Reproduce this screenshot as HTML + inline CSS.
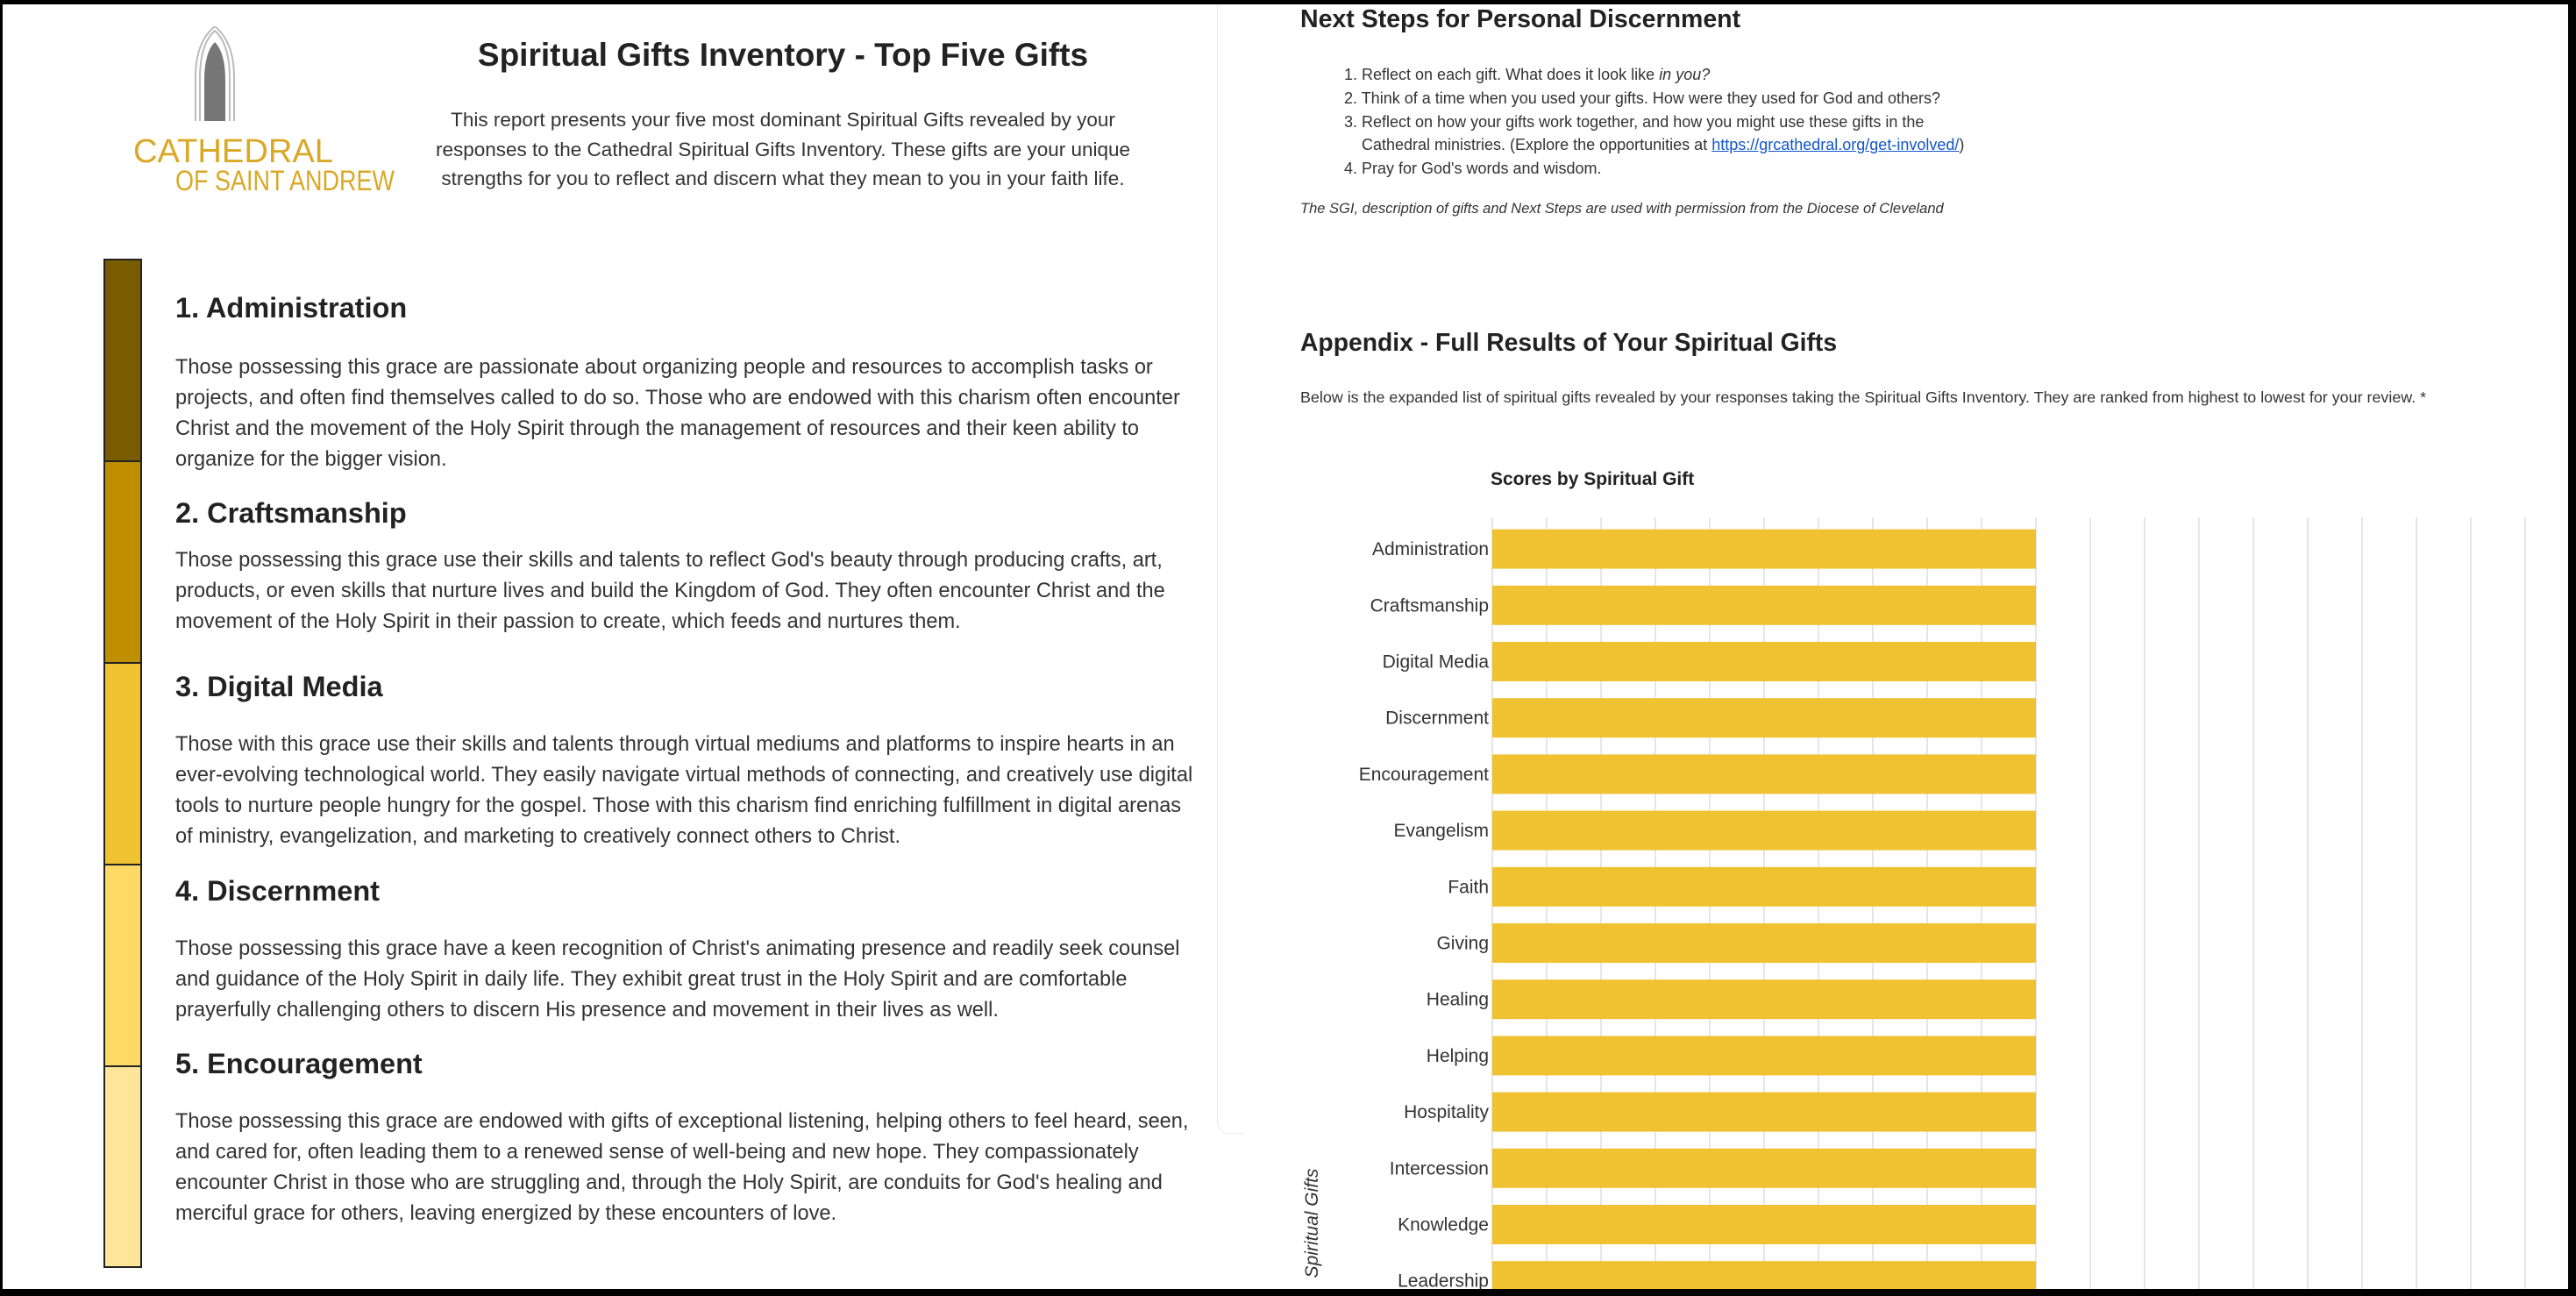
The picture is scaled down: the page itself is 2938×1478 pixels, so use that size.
<!DOCTYPE html>
<html><head><meta charset="utf-8"><style>
body{margin:0;width:2938px;height:1478px;overflow:hidden;background:#000;font-family:"Liberation Sans",Arial,sans-serif;color:#333;}
#page{position:absolute;left:3px;top:5px;width:2926px;height:1465px;background:#fff;overflow:hidden}
.abs{position:absolute;white-space:nowrap}
.para{position:absolute;left:197px;font-size:23.6px;line-height:35px;color:#333;white-space:nowrap}
.head{position:absolute;left:197px;font-size:32.5px;font-weight:bold;color:#222}
.seg{position:absolute;left:115px;width:44px;border:2px solid #222;box-sizing:border-box}
</style></head><body>
<div id="page">
 <div class="abs" style="left:147px;top:25px;width:310px;height:195px">
  <svg width="310" height="200">
   <g fill="none" stroke="#bbb" stroke-width="2">
    <path d="M78 108 L78 60 Q78 20 95 5 Q112 20 112 60 L112 108"/>
    <path d="M73 108 L73 58 Q73 18 95 0 Q117 18 117 58 L117 108"/>
   </g>
   <path d="M83 108 L83 62 Q83 30 95 18 Q107 30 107 62 L107 108 Z" fill="#777"/>
   <text x="2" y="155" font-family="Liberation Sans,sans-serif" font-size="38" fill="#d9a826" textLength="228" lengthAdjust="spacingAndGlyphs">CATHEDRAL</text>
   <text x="50" y="187" font-family="Liberation Sans,sans-serif" font-size="32" fill="#d9a826" textLength="250" lengthAdjust="spacingAndGlyphs">OF SAINT ANDREW</text>
  </svg>
 </div>
 <div class="abs" style="left:540px;top:37px;width:700px;text-align:center;font-size:37px;font-weight:bold;color:#222">Spiritual Gifts Inventory - Top Five Gifts</div>
 <div class="abs" style="left:440px;top:115px;width:900px;text-align:center;font-size:22.5px;line-height:33.5px;color:#333">This report presents your five most dominant Spiritual Gifts revealed by your<br>responses to the Cathedral Spiritual Gifts Inventory. These gifts are your unique<br>strengths for you to reflect and discern what they mean to you in your faith life.</div>

 <div class="seg" style="top:290px;height:232px;background:#7a5c00"></div>
 <div class="seg" style="top:520px;height:232px;background:#bf8f00"></div>
 <div class="seg" style="top:750px;height:232px;background:#f1c232"></div>
 <div class="seg" style="top:980px;height:232px;background:#ffd966"></div>
 <div class="seg" style="top:1210px;height:231px;background:#ffe599"></div>

 <div class="head" style="top:328px">1. Administration</div>
 <div class="para" style="top:397px">Those possessing this grace are passionate about organizing people and resources to accomplish tasks or<br>projects, and often find themselves called to do so. Those who are endowed with this charism often encounter<br>Christ and the movement of the Holy Spirit through the management of resources and their keen ability to<br>organize for the bigger vision.</div>
 <div class="head" style="top:562px">2. Craftsmanship</div>
 <div class="para" style="top:617px">Those possessing this grace use their skills and talents to reflect God's beauty through producing crafts, art,<br>products, or even skills that nurture lives and build the Kingdom of God. They often encounter Christ and the<br>movement of the Holy Spirit in their passion to create, which feeds and nurtures them.</div>
 <div class="head" style="top:760px">3. Digital Media</div>
 <div class="para" style="top:827px">Those with this grace use their skills and talents through virtual mediums and platforms to inspire hearts in an<br>ever-evolving technological world. They easily navigate virtual methods of connecting, and creatively use digital<br>tools to nurture people hungry for the gospel. Those with this charism find enriching fulfillment in digital arenas<br>of ministry, evangelization, and marketing to creatively connect others to Christ.</div>
 <div class="head" style="top:993px">4. Discernment</div>
 <div class="para" style="top:1060px">Those possessing this grace have a keen recognition of Christ's animating presence and readily seek counsel<br>and guidance of the Holy Spirit in daily life. They exhibit great trust in the Holy Spirit and are comfortable<br>prayerfully challenging others to discern His presence and movement in their lives as well.</div>
 <div class="head" style="top:1190px">5. Encouragement</div>
 <div class="para" style="top:1257px">Those possessing this grace are endowed with gifts of exceptional listening, helping others to feel heard, seen,<br>and cared for, often leading them to a renewed sense of well-being and new hope. They compassionately<br>encounter Christ in those who are struggling and, through the Holy Spirit, are conduits for God's healing and<br>merciful grace for others, leaving energized by these encounters of love.</div>

 <div class="abs" style="left:1385px;top:-5px;width:30px;height:1292px;border-left:1px solid #e8e8e8;border-bottom:1px solid #eee;border-bottom-left-radius:14px"></div>

 <div class="abs" style="left:1480px;top:1px;font-size:28.5px;font-weight:bold;color:#222">Next Steps for Personal Discernment</div>
 <div class="abs" style="left:1530px;top:67px;font-size:18px;line-height:26.8px;color:#333">1. Reflect on each gift. What does it look like <i>in you?</i><br>2. Think of a time when you used your gifts. How were they used for God and others?<br>3. Reflect on how your gifts work together, and how you might use these gifts in the<br>&nbsp;&nbsp;&nbsp;&nbsp;Cathedral ministries. (Explore the opportunities at <a style="color:#1155cc;text-decoration:underline">https://grcathedral.org/get-involved/</a>)<br>4. Pray for God's words and wisdom.</div>
 <div class="abs" style="left:1480px;top:224px;font-size:16.5px;font-style:italic;color:#333">The SGI, description of gifts and Next Steps are used with permission from the Diocese of Cleveland</div>
 <div class="abs" style="left:1480px;top:369px;font-size:28.3px;font-weight:bold;color:#222">Appendix - Full Results of Your Spiritual Gifts</div>
 <div class="abs" style="left:1480px;top:438px;font-size:17.9px;color:#333">Below is the expanded list of spiritual gifts revealed by your responses taking the Spiritual Gifts Inventory. They are ranked from highest to lowest for your review. *</div>

 <svg id="chart" class="abs" style="left:0;top:0" width="2926" height="1465"></svg>
</div>
<script>
const categories=["Administration","Craftsmanship","Digital Media","Discernment","Encouragement","Evangelism","Faith","Giving","Healing","Helping","Hospitality","Intercession","Knowledge","Leadership"];
const scores=[10,10,10,10,10,10,10,10,10,10,10,10,10,10];
const xTicks=[0,1,2,3,4,5,6,7,8,9,10,11,12,13,14,15,16,17,18,19,20];
const NS="http://www.w3.org/2000/svg";
const svg=document.getElementById('chart');
const ox=-3, oy=-5;
const x0=1702+ox, x1=2942+ox, xMax=20;
const top0=590+oy, band=64.2, barH=45;
const xs=v=>x0+(v/xMax)*(x1-x0);
const yc=i=>top0+band/2+4+i*band;
function mk(t,a){const e=document.createElementNS(NS,t);for(const k in a)e.setAttribute(k,a[k]);svg.appendChild(e);return e;}
xTicks.forEach(t=>{
 const l=mk('line',{x1:xs(t),x2:xs(t),y1:top0,y2:1470,stroke:'#dedede','stroke-width':1.5});
 
 
});
categories.forEach((c,i)=>{
 const r=mk('rect',{x:xs(0),y:yc(i)-barH/2,width:xs(scores[i])-xs(0),height:barH,fill:'#f0c232'});
 
 
 const t=mk('text',{x:x0-4,y:yc(i)+7,'text-anchor':'end','font-size':21,fill:'#333','font-family':'Liberation Sans, sans-serif'});
 t.textContent=c;
 
 
});
const ttl=mk('text',{x:1700+ox,y:553+oy,'font-size':21,'font-weight':'bold',fill:'#222','font-family':'Liberation Sans, sans-serif'});
ttl.textContent='Scores by Spiritual Gift';


const yt=mk('text',{x:0,y:0,'font-size':21,'font-style':'italic',fill:'#333','text-anchor':'middle','font-family':'Liberation Sans, sans-serif',transform:'translate('+(1503+ox)+','+(1395+oy)+') rotate(-90)'});
yt.textContent='Spiritual Gifts';


</script>
</body></html>
